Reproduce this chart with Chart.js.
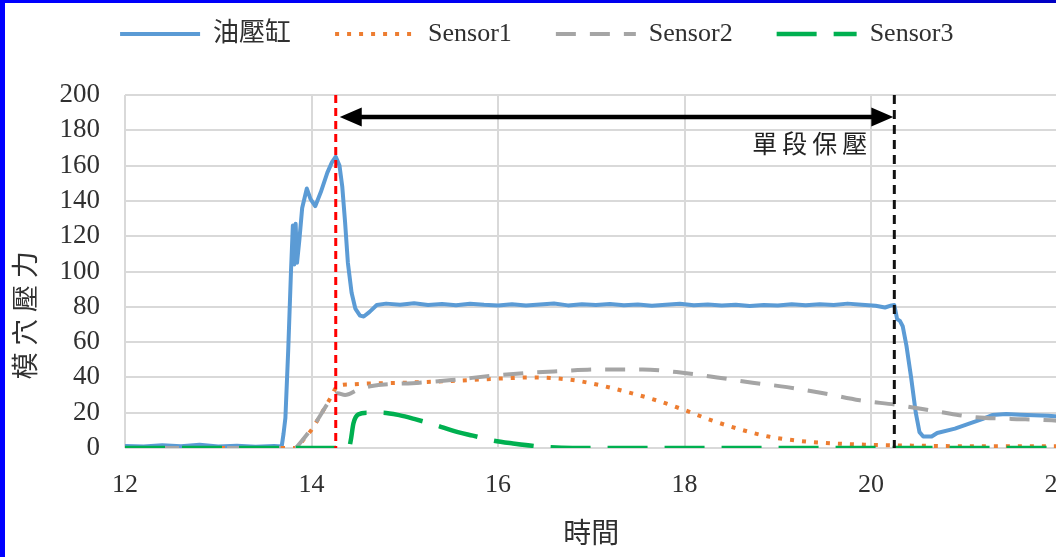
<!DOCTYPE html>
<html>
<head>
<meta charset="utf-8">
<script src="https://cdn.jsdelivr.net/npm/chart.js@4.4.0/dist/chart.umd.min.js"></script>
<style>
  html, body { margin: 0; padding: 0; background: #fff; overflow: hidden; }
  #myChart { position: absolute; left: 0; top: 0; }
  .edgeT { position: absolute; left: 0; top: 0; width: 1056px; height: 3px; background: linear-gradient(to right, #0000ff, #0000ee 60%, #0000c4); }
  .edgeL { position: absolute; left: 0; top: 0; width: 5px; height: 557px; background: #0000ff; }
</style>
</head>
<body>
<canvas id="myChart" width="1080" height="557"></canvas>
<div class="edgeT"></div><div class="edgeL"></div>
<script>
// series names (legend)
const seriesNames = ['油壓缸', 'Sensor1', 'Sensor2', 'Sensor3'];

// 油壓缸 (time, value)
const oilTime = [12.0, 12.2, 12.4, 12.6, 12.8, 13.0, 13.2, 13.4, 13.6, 13.68,
    13.70, 13.72, 13.75, 13.78, 13.80, 13.815, 13.83, 13.845, 13.87, 13.90,
    13.95, 13.99, 14.04, 14.10, 14.17, 14.22, 14.26, 14.30, 14.33, 14.36,
    14.39, 14.43, 14.47, 14.52, 14.56, 14.62, 14.70,
    14.80, 14.95, 15.10, 15.25, 15.40, 15.55, 15.70, 15.85, 16.00, 16.15,
    16.30, 16.45, 16.60, 16.75, 16.90, 17.05, 17.20, 17.35, 17.50, 17.65,
    17.80, 17.95, 18.10, 18.25, 18.40, 18.55, 18.70, 18.85, 19.00, 19.15,
    19.30, 19.45, 19.60, 19.75, 19.90, 20.05, 20.15, 20.22,
    20.25, 20.28, 20.31, 20.34, 20.38, 20.43, 20.48, 20.52, 20.56, 20.65,
    20.71, 20.90, 21.06, 21.20, 21.30, 21.45, 21.60, 21.75, 21.90, 22.0];
const oilValue = [1.2, 0.8, 1.5, 1.0, 1.8, 0.9, 1.3, 0.7, 1.2, 0.8,
    8, 17, 55, 100, 126, 104, 127, 105, 118, 136,
    147, 141, 137, 145, 156, 162, 165, 160, 148, 128,
    105, 88, 79, 75, 74.5, 77, 81,
    81.8, 81.2, 82.0, 81.0, 81.6, 80.9, 81.7, 81.1, 80.8, 81.5,
    80.7, 81.3, 81.9, 80.8, 81.4, 81.0, 81.6, 80.9, 81.3, 80.6,
    81.2, 81.7, 80.9, 81.3, 80.7, 81.1, 80.5, 81.0, 80.8, 81.4,
    80.9, 81.5, 81.0, 81.8, 81.2, 80.6, 79.6, 80.8,
    81, 73, 72, 69, 58, 40, 20, 9, 6.5, 6.5,
    8.5, 11, 14, 16.5, 18.7, 19.2, 18.8, 18.5, 18.3, 17.8];

// Sensor1
const s1Time = [12.0, 13.85, 13.91, 14.01, 14.10, 14.20, 14.28, 14.40, 14.60, 15.0,
    15.5, 16.0, 16.4, 16.8, 17.1, 17.4, 17.7, 18.0, 18.3, 18.6,
    18.9, 19.2, 19.6, 20.0, 20.5, 21.0, 22.0];
const s1Value = [0, 0, 4.5, 11, 19, 28, 35, 36, 36.5, 37,
    38, 39.3, 40, 38.5, 35.5, 31.5, 27, 21.5, 15.5, 10.5,
    6.5, 4.2, 2.6, 1.8, 1.3, 1.0, 1.0];

// Sensor2
const s2Time = [12.0, 13.82, 13.88, 14.04, 14.20, 14.28, 14.36, 14.50, 14.63, 15.16,
    15.5, 15.95, 16.3, 16.66, 17.1, 17.55, 18.0, 18.35, 18.73, 19.1,
    19.49, 19.88, 20.28, 20.74, 21.09, 21.5, 21.81, 22.0];
const s2Value = [0, 0, 3, 14, 27, 31, 30, 33, 35, 37,
    38.5, 41, 42.5, 43.5, 44.5, 44.5, 42.5, 40, 37, 34.5,
    31, 27, 24.4, 20.4, 17.6, 16.5, 16, 15.5];

// Sensor3
const s3Time = [12.0, 14.40, 14.42, 14.45, 14.50, 14.60, 14.75, 14.95, 15.10, 15.30,
    15.57, 15.73, 15.95, 16.16, 16.50, 16.80, 22.0];
const s3Value = [0, 0, 4, 14, 19, 20, 20, 18.5, 16.5, 13.5,
    9, 7, 4.2, 2.6, 0.6, 0, 0];

// axis ranges / ticks
const xTicks = [12, 22, 2];   // min, max, step
const yTicks = [0, 200, 20];

// annotation: single-stage holding period
const stageStart = 14.26;
const stageEnd = 20.25;
const arrowLevel = 187.5;
const stageLabel = '單段保壓';
const stageLabelAt = [19.96, 171];

const serif = "'Liberation Serif', 'Noto Sans CJK TC', serif";
const textColor = '#303030';

const toPoints = (ts, vs) => ts.map((t, i) => ({x: t, y: vs[i]}));

// legend sits higher (and a bit further right) than Chart.js would put it
const legendShift = {
    id: 'legendShift',
    afterLayout(chart) {
        const lg = chart.legend;
        if (lg) {
            lg.top -= 38;
            lg.bottom -= 38;
            lg.left += 8;
            lg.right += 8;
        }
    }
};

// dashed start/end lines, double arrow and its label
const stageMarks = {
    id: 'stageMarks',
    afterDatasetsDraw(chart) {
        const {ctx, chartArea, scales: {x, y}} = chart;
        const x0 = x.getPixelForValue(stageStart);
        const x1 = x.getPixelForValue(stageEnd);
        const ya = y.getPixelForValue(arrowLevel);
        ctx.save();

        ctx.lineWidth = 3;
        ctx.setLineDash([8, 5]);
        ctx.strokeStyle = '#ff0000';
        ctx.beginPath();
        ctx.moveTo(x0, chartArea.top);
        ctx.lineTo(x0, chartArea.bottom);
        ctx.stroke();

        ctx.setLineDash([9, 6]);
        ctx.strokeStyle = '#111';
        ctx.beginPath();
        ctx.moveTo(x1, chartArea.top);
        ctx.lineTo(x1, chartArea.bottom);
        ctx.stroke();

        // arrow
        ctx.setLineDash([]);
        const left = x0 + 4, right = x1 - 1;
        ctx.lineWidth = 4.5;
        ctx.strokeStyle = '#000';
        ctx.beginPath();
        ctx.moveTo(left + 10, ya);
        ctx.lineTo(right - 10, ya);
        ctx.stroke();
        ctx.fillStyle = '#000';
        ctx.beginPath();
        ctx.moveTo(left, ya);
        ctx.lineTo(left + 22, ya - 9.5);
        ctx.lineTo(left + 22, ya + 9.5);
        ctx.closePath();
        ctx.fill();
        ctx.beginPath();
        ctx.moveTo(right, ya);
        ctx.lineTo(right - 22, ya - 9.5);
        ctx.lineTo(right - 22, ya + 9.5);
        ctx.closePath();
        ctx.fill();

        // label
        ctx.font = '25px ' + serif;
        ctx.letterSpacing = '5px';
        ctx.textAlign = 'right';
        ctx.textBaseline = 'middle';
        ctx.fillStyle = '#222';
        ctx.fillText(stageLabel, x.getPixelForValue(stageLabelAt[0]) + 5, y.getPixelForValue(stageLabelAt[1]));
        ctx.restore();
    }
};

const canvas = document.getElementById('myChart');
const myChart = new Chart(canvas, {
    type: 'line',
    data: {
        datasets: [{
            label: seriesNames[0],
            data: toPoints(oilTime, oilValue),
            borderColor: '#5b9bd5',
            backgroundColor: '#5b9bd5',
            borderWidth: 4,
            borderJoinStyle: 'round',
            tension: 0,
            order: 4
        }, {
            label: seriesNames[1],
            data: toPoints(s1Time, s1Value),
            borderColor: '#ed7d31',
            backgroundColor: '#ed7d31',
            borderWidth: 4,
            borderDash: [4, 8],
            cubicInterpolationMode: 'monotone',
            order: 3
        }, {
            label: seriesNames[2],
            data: toPoints(s2Time, s2Value),
            borderColor: '#a5a5a5',
            backgroundColor: '#a5a5a5',
            borderWidth: 4,
            borderDash: [20, 14],
            cubicInterpolationMode: 'monotone',
            order: 2
        }, {
            label: seriesNames[3],
            data: toPoints(s3Time, s3Value),
            borderColor: '#00b050',
            backgroundColor: '#00b050',
            borderWidth: 4.5,
            borderDash: [40, 17],
            cubicInterpolationMode: 'monotone',
            order: 1
        }]
    },
    options: {
        responsive: false,
        animation: false,
        layout: { padding: { top: 15, right: 22.5, bottom: 0, left: 0 } },
        elements: { point: { radius: 0 } },
        plugins: {
            tooltip: { enabled: false },
            legend: {
                position: 'top',
                labels: {
                    usePointStyle: true,
                    pointStyle: 'line',
                    pointStyleWidth: 80,
                    padding: 44,
                    color: textColor,
                    font: { family: serif, size: 26 },
                    sort: (a, b) => a.datasetIndex - b.datasetIndex,
                    generateLabels(chart) {
                        const items = Chart.defaults.plugins.legend.labels.generateLabels(chart);
                        items.forEach(item => {
                            const ds = chart.data.datasets[item.datasetIndex];
                            item.lineDash = ds.borderDash || [];
                            item.lineWidth = ds.borderWidth;
                            item.strokeStyle = ds.borderColor;
                            item.lineCap = 'butt';
                        });
                        return items;
                    }
                }
            }
        },
        scales: {
            x: {
                type: 'linear',
                min: xTicks[0],
                max: xTicks[1],
                ticks: { stepSize: xTicks[2], padding: 22, autoSkip: false, color: textColor, font: { family: serif, size: 26 } },
                grid: { color: '#d9d9d9', lineWidth: 2, drawTicks: false },
                border: { display: false },
                title: { display: true, text: '時間', color: textColor, font: { family: serif, size: 28 }, padding: { top: 0, bottom: 5 } },
                afterFit: s => { s.height = 109; s.paddingLeft = 0; s.paddingRight = 0; }
            },
            y: {
                min: yTicks[0],
                max: yTicks[1],
                ticks: { stepSize: yTicks[2], padding: 25, autoSkip: false, color: textColor, font: { family: serif, size: 27 } },
                grid: { color: '#d9d9d9', lineWidth: 2, drawTicks: false },
                border: { display: false },
                title: { display: true, text: '模 穴 壓 力\u3000\u3000\u3000 ', color: textColor, font: { family: serif, size: 27 }, padding: { top: 12, bottom: 0 } },
                afterFit: s => { s.width = 125; }
            }
        }
    },
    plugins: [legendShift, stageMarks]
});
</script>
</body>
</html>
